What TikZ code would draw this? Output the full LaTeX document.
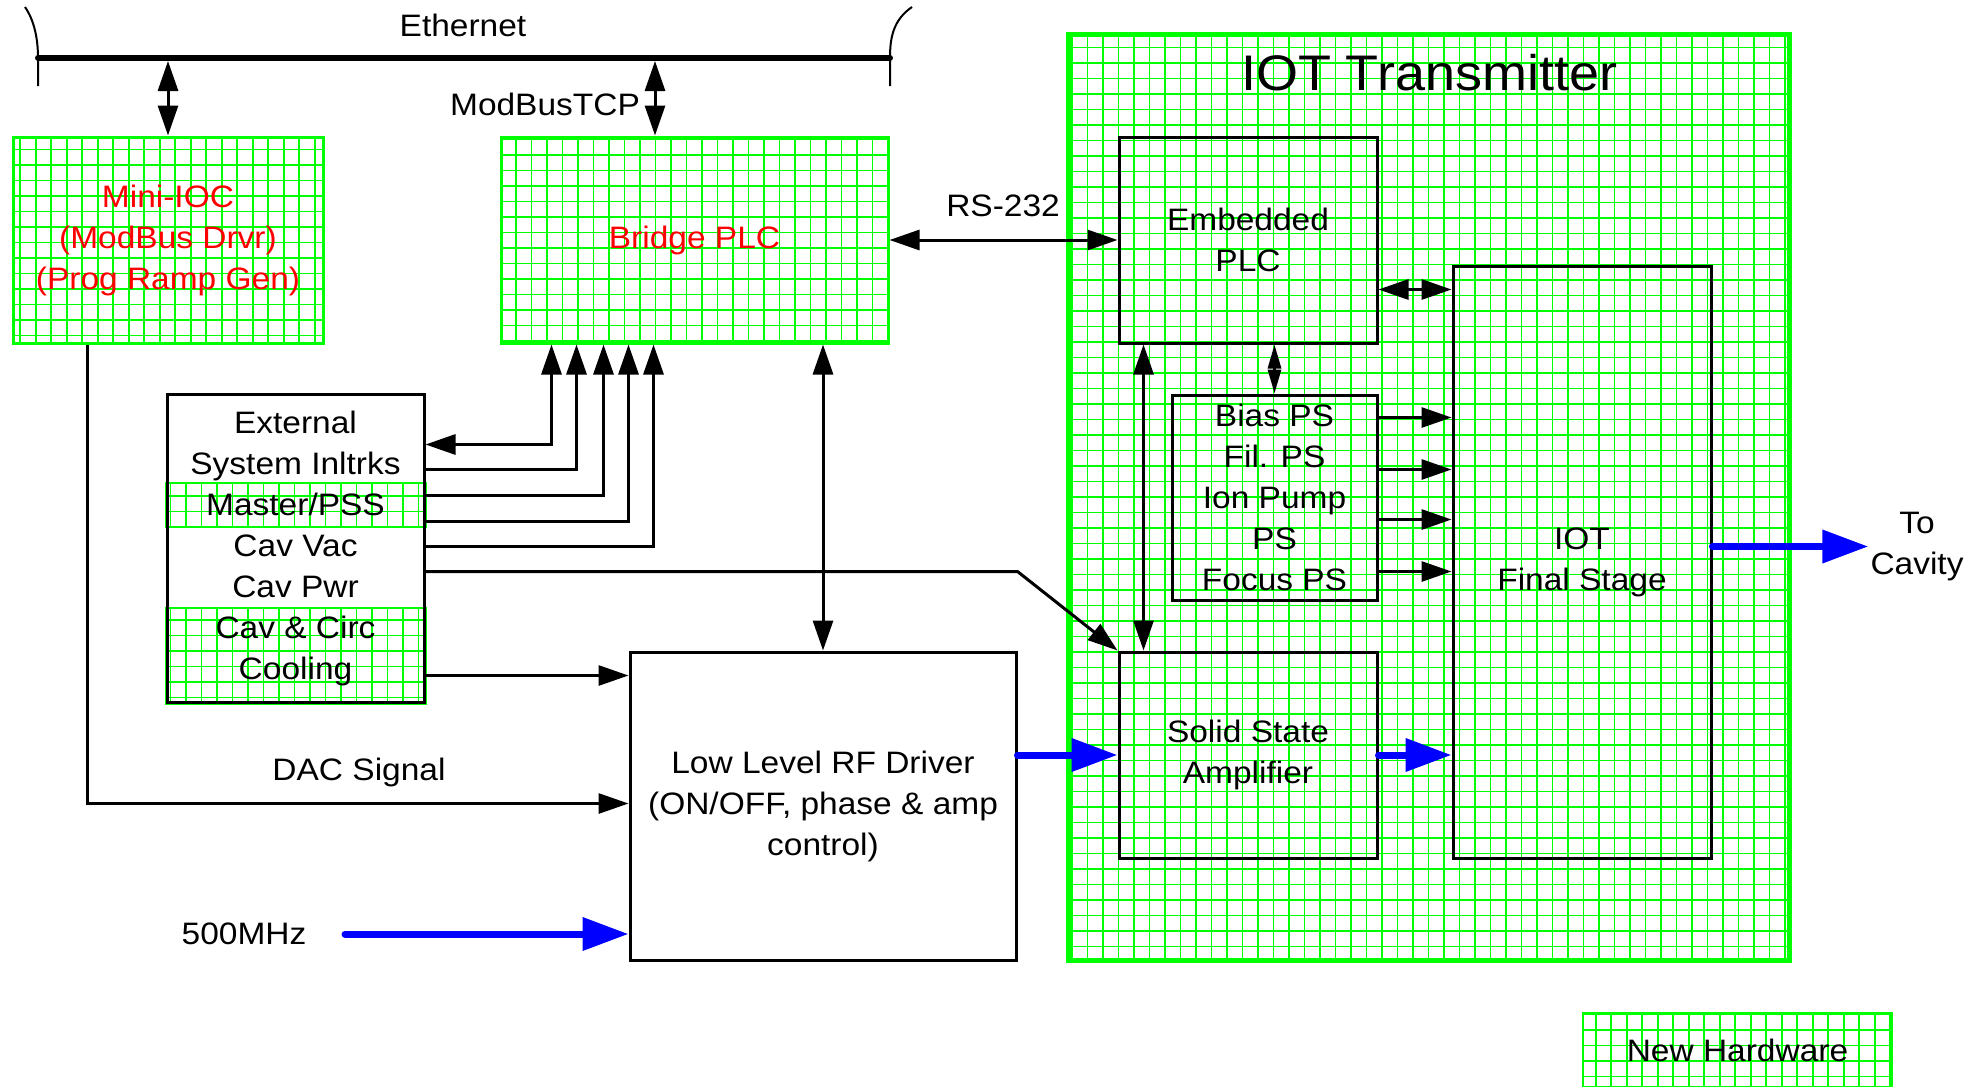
\documentclass[tikz,border=0pt]{standalone}
\usepackage{fontspec}
\setmainfont{Liberation Sans}[FakeStretch=1.08]
\usetikzlibrary{arrows.meta,backgrounds}
\definecolor{gr}{RGB}{0,255,0}
\definecolor{bl}{RGB}{0,0,255}
\definecolor{rd}{RGB}{255,0,0}
\tikzset{
  txt/.style={font=\fontsize{31}{41}\selectfont, align=center, inner sep=2pt},
  gridfill/.style={path picture={\draw[draw=gr, line width=1.8pt] ([shift={(-16pt,-16pt)}]path picture bounding box.south west) grid[step=15.5pt] ([shift={(16pt,16pt)}]path picture bounding box.north east);}},
  greenbox/.style={txt, draw=gr, line width=3pt, gridfill},
  blackbox/.style={txt, draw=black, line width=3pt},
  conn/.style={line width=3pt, draw=black},
  sarrow/.style={conn, -{Triangle[length=30pt,width=20pt]}},
  barrow/.style={conn, {Triangle[length=30pt,width=20pt]}-{Triangle[length=30pt,width=20pt]}},
  smallbarrow/.style={conn, {Triangle[length=24pt,width=13pt]}-{Triangle[length=24pt,width=13pt]}},
  bluearrow/.style={line width=7pt, draw=bl, line cap=round, -{Triangle[length=46pt,width=32pt]}},
}
\begin{document}
\begin{tikzpicture}[x=1pt,y=-1pt]
\clip (0,0) rectangle (1984,1087);
% Ethernet bus
\coordinate (busL) at (38,58);
\coordinate (busR) at (890,58);
\draw[line width=6pt, line cap=round] (busL) -- (busR);
\draw[line width=2pt] (25,7) .. controls (34,20) and (38,38) .. (busL) -- (38,86);
\draw[line width=2pt] (912,7) .. controls (893,20) and (890,38) .. (busR) -- (890,86);
\node[txt] (eth) at (463,25) {Ethernet};

% IOT transmitter
\node[draw=gr, line width=5pt, gridfill, minimum width=721pt, minimum height=926pt] (tx) at (1428.5,497) {};
\node[font=\fontsize{50}{60}\selectfont] (txtitle) at (1429,73) {IOT Transmitter};
\node[blackbox, minimum width=258pt, minimum height=206pt] (emb) at (1248,240) {Embedded\\PLC};
\node[blackbox, minimum width=258pt, minimum height=592pt] (fin) at (1582,562) {IOT\\Final Stage};
\node[blackbox, minimum width=205pt, minimum height=205pt] (ps) at (1274.5,497.5) {Bias PS\\Fil. PS\\Ion Pump\\PS\\Focus PS};
\node[blackbox, minimum width=258pt, minimum height=206pt] (ssa) at (1248,755) {Solid State\\Amplifier};

% left boxes
\node[greenbox, text=rd, minimum width=310pt, minimum height=206pt] (ioc) at (168,240) {Mini-IOC\\(ModBus Drvr)\\(Prog Ramp Gen)};
\node[greenbox, text=rd, minimum width=387pt, minimum height=206pt] (bridge) at (694.5,240) {Bridge PLC};
\node[blackbox, minimum width=386pt, minimum height=308pt] (llrf) at (823,806) {Low Level RF Driver\\(ON/OFF, phase \& amp\\control)};
\node[blackbox, minimum width=257pt, minimum height=308pt] (ext) at (295.5,548) {External\\System Inltrks\\Master/PSS\\Cav Vac\\Cav Pwr\\Cav \& Circ\\Cooling};
\begin{scope}[on background layer]
  \path[gridfill, draw=gr, line width=2pt] ([yshift=-90pt]ext.north west) rectangle ([yshift=-134pt]ext.north east);
  \path[gridfill, draw=gr, line width=2pt] ([yshift=-215pt]ext.north west) rectangle (ext.south east);
\end{scope}

% legend
\node[txt, draw=gr, line width=2pt, gridfill, minimum width=309pt, minimum height=74pt, anchor=north] (legend) at (1737.5,1012) {New Hardware};

% labels
\node[txt] (mbt) at (545,104) {ModBusTCP};
\node[txt] (rs) at (1003,206) {RS-232};
\node[txt] (dac) at (359,772) {DAC Signal};
\node[txt] (mhz) at (244,934) {500MHz};
\node[txt] (cav) at (1917,547) {To\\Cavity};

% Ethernet links
\draw[barrow, shorten <=3pt] (ioc.north |- busL) -- (ioc.north);
\coordinate (mb) at ([xshift=-39.5pt]bridge.north);
\draw[barrow, shorten <=3pt] (mb |- busL) -- (mb);

% RS-232
\draw[barrow] (bridge.east) -- (emb.west);

% interlocks to bridge PLC
\draw[barrow] ([yshift=-52pt]ext.north east) -| ([xshift=52pt]bridge.south west);
\draw[sarrow] ([yshift=-77pt]ext.north east) -| ([xshift=77pt]bridge.south west);
\draw[sarrow] ([yshift=-103pt]ext.north east) -| ([xshift=104pt]bridge.south west);
\draw[sarrow] ([yshift=-129pt]ext.north east) -| ([xshift=129pt]bridge.south west);
\draw[sarrow] ([yshift=-154pt]ext.north east) -| ([xshift=154pt]bridge.south west);

% bridge <-> llrf
\draw[barrow] (llrf.north |- bridge.south) -- (llrf.north);

% embedded PLC links
\coordinate (ef) at ([yshift=-154pt]emb.north east);
\draw[barrow] (ef) -- (ef -| fin.west);
\draw[smallbarrow] (ps.north |- emb.south) -- (ps.north);
\coordinate (es) at ([xshift=26pt]emb.south west);
\draw[barrow] (es) -- (es |- ssa.north);

% PS to IOT
\foreach \d in {24,76,126,178} {
  \coordinate (pp) at ([yshift=-\d pt]ps.north east);
  \draw[sarrow] (pp) -- (pp -| fin.west);
}

% Cav Pwr to SSA
\coordinate (pwr) at ([yshift=-179pt]ext.north east);
\draw[sarrow] (pwr) -- (pwr -| llrf.east) -- (ssa.north west);

% Cooling to LLRF
\coordinate (cool) at ([yshift=-283pt]ext.north east);
\draw[sarrow] (cool) -- (cool -| llrf.west);

% DAC
\coordinate (dacend) at ([yshift=-153pt]llrf.north west);
\draw[sarrow] ([xshift=76pt]ioc.south west) |- (dacend);

% RF path
\coordinate (mhzstart) at (345,934);
\draw[bluearrow] (mhzstart) -- (mhzstart -| llrf.west);
\draw[bluearrow] (ssa.west -| llrf.east) -- (ssa.west);
\draw[bluearrow] (ssa.east) -- (ssa.east -| fin.west);
\coordinate (fc) at ([yshift=-282pt]fin.north east);
\draw[bluearrow] (fc) -- (fc -| cav.west);
\end{tikzpicture}
\end{document}
